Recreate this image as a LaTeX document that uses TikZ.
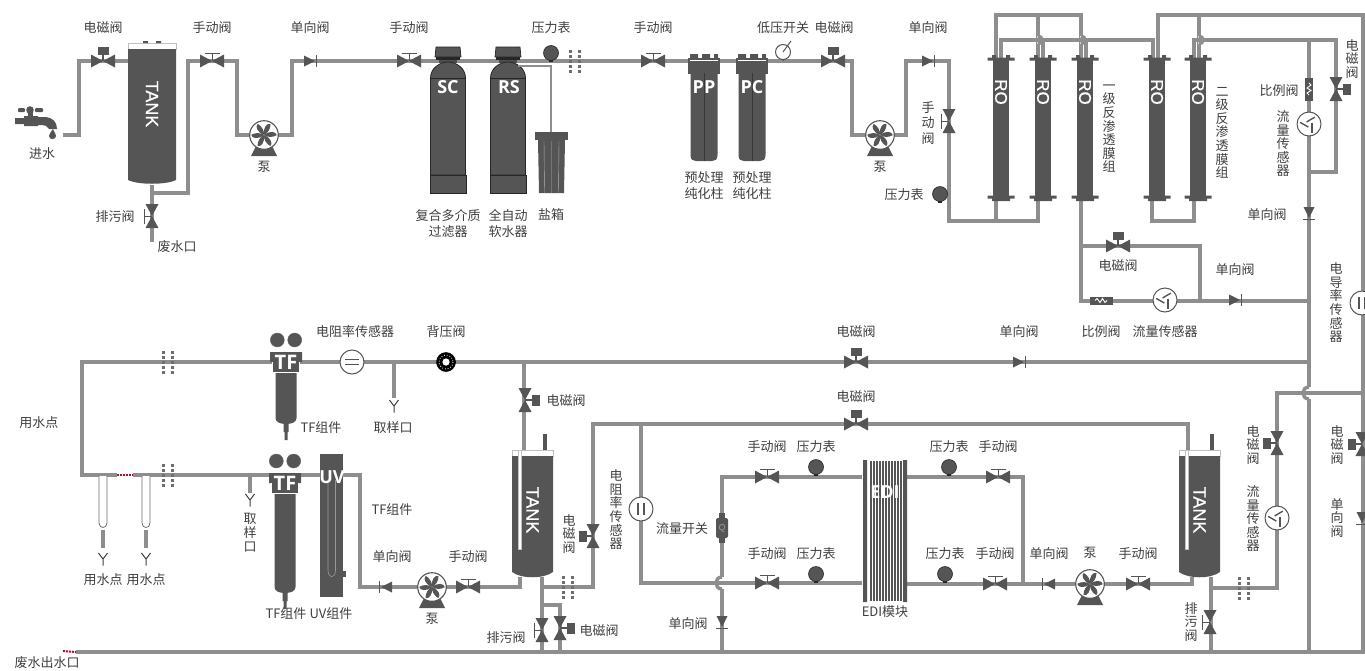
\documentclass[tikz,border=0pt]{standalone}
\usepackage{fontspec}
\setmainfont{Noto Sans CJK SC}
\newfontfamily\headfont{Open Sans}
\newfontfamily\arialfont[FakeBold=0.5]{Liberation Sans}
\usepackage{tikz}
\usetikzlibrary{positioning,calc}
\definecolor{pipegray}{HTML}{8E8E8E}
\definecolor{darkfill}{HTML}{555555}
\definecolor{labgray}{HTML}{3F3F3F}
\definecolor{dotgray}{HTML}{6E6E6E}
\definecolor{redmark}{HTML}{B0122B}
\tikzset{
    pipe/.style={draw=pipegray,line width=3.4pt},
    thinpipe/.style={draw=pipegray,line width=2pt},
    redgap/.style={draw=redmark,line width=2pt,dash pattern=on 2pt off 1pt},
    lab/.style={text=labgray,inner sep=0pt,align=center,yshift=-.7pt,
        font=\fontsize{13}{16}\selectfont},
    vlab/.style={lab,font=\fontsize{13}{13.6}\selectfont},
    vlabwide/.style={lab,font=\fontsize{13}{15.5}\selectfont},
    head/.style={text=white,inner sep=0pt,font=\headfont\bfseries\fontsize{18}{18}\selectfont},
    tanklab/.style={text=white,inner sep=0pt,rotate=-90,font=\arialfont\fontsize{#1}{#1}\selectfont},
    % devices on the pipes
    pics/valve/.style={code={
        \fill[darkfill] (-12,-6.5) -- (12,6.5) -- (12,-6.5) -- (-12,6.5) -- cycle;
    }},
    pics/manualv/.style={code={
        \pic[transform shape] {valve};
        \draw[darkfill,line width=1pt] (0,0) -- (0,-8) (-7.5,-8) -- (7.5,-8);
    }},
    pics/solv/.style={code={
        \pic[transform shape] {valve};
        \draw[darkfill,line width=1.2pt] (0,0) -- (0,-7);
        \fill[darkfill] (-5.5,-14.5) rectangle (5.5,-6.5);
    }},
    pics/checkv/.style={code={
        \fill[darkfill] (-6,-5.5) -- (-6,5.5) -- (5,0) -- cycle;
        \draw[darkfill,line width=1pt] (6.5,-6) -- (6.5,6);
    }},
    pics/pumpv/.style={code={
        \fill[darkfill] (-13,21) -- (13,21) -- (8,11) -- (-8,11) -- cycle;
        \draw[darkfill,fill=white,line width=1.1pt] (0,0) circle[radius=14.3];
        \foreach \a in {0,60,...,300}
          \fill[darkfill,rotate=\a] (0,0) .. controls (-1,-8) and (3,-12) .. (6.5,-11) .. controls (6.5,-6) and (4,-2) .. (0,0) -- cycle;
    }},
    pics/flowsens/.style={code={
        \draw[darkfill,fill=white,line width=1pt] (0,0) circle[radius=12];
        \foreach \a in {0,120,240}
          \draw[darkfill,line width=1.4pt,rotate=\a] (3,-1) -- (3,8.5);
    }},
    pics/barsens/.style={code={
        \draw[darkfill,fill=white,line width=1pt] (0,0) circle[radius=12];
        \draw[darkfill,line width=1.8pt] (-2.7,-6) -- (-2.7,6) (2.7,-6) -- (2.7,6);
    }},
    pics/gaugev/.style={code={
        \draw[black!85,fill=darkfill,line width=.6pt] (0,0) circle[radius=7.5];
        \fill[black!85] (-2,6.8) rectangle (2,8.6);
    }},
    pics/propv/.style={code={
        \fill[darkfill] (-4,-11.5) rectangle (4,11.5);
        \draw[white,line width=.9pt] (0,-6) -- (2,-4) -- (-2,-1) -- (2,1.5) -- (-2,4) -- (0,6);
    }},
    pics/breakdots/.style={code={
        \foreach \c in {-4.5,4.5}
          \foreach \r in {-10,-5,0,5,10}
            \fill[dotgray] (\c-1.5,\r-1.5) rectangle (\c+1.5,\r+1.5);
    }},
    pics/sampley/.style={code={
        \draw[labgray,line width=1pt] (-4.5,-6) -- (0,0) -- (4.5,-6) (0,0) -- (0,6.5);
    }},
    pics/hopv/.style={code={
        \fill[white] (-2.2,-6) rectangle (2.2,6);
        \draw[pipe] (-5,0) -- (2.2,0);
        \draw[pipe] (0,-6) .. controls (-8,-6) and (-8,6) .. (0,6);
    }},
    pics/utube/.style={code={
        \draw[dotgray,fill=white,line width=.8pt] (-4,0) -- (-4,47) .. controls (-4,53) and (4,53) .. (4,47) -- (4,0);
    }},
    % vessels
    pics/bigtank/.style={code={
        \draw[black!25,fill=white,line width=.7pt] (-24,-61) -- (24,-61) -- (24,-55) -- (-24,-55) -- cycle;
        \fill[darkfill] (-9,-63) rectangle (-4,-61) (9,-63) rectangle (4,-61);
        \fill[darkfill] (-24,-55) -- (24,-55) -- (24,76) .. controls (14,81) and (-14,81) .. (-24,76) -- cycle;
        \node[tanklab=18] (-name) at (0,0) {TANK};
    }},
    pics/smalltank/.style={code={
        \fill[darkfill] (31,-16) rectangle (35,0);
        \draw[black!25,fill=white,line width=.7pt] (0,0) rectangle (41,6);
        \fill[darkfill] (0,6) -- (41,6) -- (41,122) .. controls (32,129) and (9,129) .. (0,122) -- cycle;
        \draw[black!25,fill=white,line width=.5pt] (6.5,0) rectangle (9.5,99);
        \node[tanklab=18] (-name) at (20.5,60) {TANK};
    }},
    pics/softener/.style={code={
        \fill[darkfill,draw=black!85,line width=.7pt] (-12,-14) -- (12,-14) -- (13,-4) -- (-13,-4) -- cycle;
        \fill[black!85] (-12,-4) rectangle (12,-1);
        \fill[black!70] (-9,-1) rectangle (9,2);
        \draw[black!85,fill=darkfill,line width=.8pt] (-17.5,114) -- (-17.5,17) .. controls (-17.5,7) and (-8,1) .. (0,1) .. controls (8,1) and (17.5,7) .. (17.5,17) -- (17.5,114) -- cycle;
        \draw[black!85,line width=.8pt] (-17.5,17) -- (17.5,17);
        \draw[black!85,fill=darkfill,line width=.8pt] (-18,114) rectangle (18,132);
    }},
    pics/cartridge/.style={code={
        \fill[darkfill] (-13.5,12) -- (13.5,12) -- (13.5,94) .. controls (13.5,99) and (11,100) .. (8,100) -- (-8,100) .. controls (-11,100) and (-13.5,99) .. (-13.5,94) -- cycle;
        \fill[darkfill] (-16,-3) rectangle (16,13);
        \fill[darkfill] (-14,-7) rectangle (-6,-3) (-2,-7) rectangle (6,-3) (10,-7) rectangle (14,-3);
        \draw[black!35!darkfill,line width=.6pt] (0,12) -- (0,100);
        \draw[white,line width=.3pt] (-14,-1) -- (14,-1);
    }},
    pics/memb/.style={code={
        \fill[darkfill] (-8,0) rectangle (8,138);
        \fill[darkfill] (-13.5,-1.5) rectangle (13.5,1.5) (-13.5,136.5) rectangle (13.5,139.5);
        \fill[darkfill] (-9,-4) rectangle (-5,-1) (5,-4) rectangle (9,-1) (-9,139) rectangle (9,142);
        \node[tanklab=17] (-name) at (0,33) {RO};
    }},
    pics/tfunit/.style={code={
        \draw[black!60,fill=darkfill,line width=.4pt] (-8.7,-12) circle[radius=7] (8.7,-12) circle[radius=7];
        \fill[darkfill] (-10.5,#1) -- (-10.5,6) -- (10.5,6) -- (10.5,#1) .. controls (10.5,#1+4) and (6,#1+6) .. (0,#1+6) .. controls (-6,#1+6) and (-10.5,#1+4) .. (-10.5,#1) -- cycle;
        \fill[darkfill] (-16,0) rectangle (16,10) (-13.5,10) rectangle (13.5,20);
        \draw[white,line width=.4pt] (-13.5,10) -- (-13.5,20) -- (13.5,20) -- (13.5,10);
        \fill[darkfill] (-2.5,#1+6) rectangle (2.5,#1+14) (-1.5,#1+14) rectangle (1.5,#1+22);
        \node[head,font=\headfont\bfseries\fontsize{20}{20}\selectfont] (-name) at (0,10) {TF};
    }}
}
\begin{document}
\begin{tikzpicture}[x=1pt,y=-1pt]
  \useasboundingbox (0,0) rectangle (1365,670);
  \clip (0,0) rectangle (1365,670);
  % points of the pipe runs
  \foreach \n/\x/\y in {
    feedA/63/135,feedB/79/135,feedC/79/61,feedD/128/61,
    drainA/152/185,drainB/152/193,drainC/152/242,
    liftA/188/193,liftB/188/61,liftC/237/61,liftD/237/135,liftE/250/135,
    mainA/278/135,mainB/292/135,mainC/292/61,mainD/852/61,mainE/852/135,mainF/866/135,
    hpA/894/135,hpB/906/135,hpC/906/61,hpD/949/61,hpE/949/221,hpF/1038/221,hpG/1038/197,
    hpH/996/221,hpI/996/197,
    loopA/996/60,loopB/996/15,loopC/1081/15,loopD/1081/60,loopE/1038/15,loopF/1038/60,
    permA/1001/60,permB/1001/40,permC/1153/40,permD/1153/60,permE/1043/40,permF/1043/60,permG/1086/40,permH/1086/60,
    rejA/1081/197,rejB/1081/301,rejC/1309/301,rejD/1081/246,rejE/1200/246,rejF/1200/301,
    linkA/1152/197,linkB/1152/221,linkC/1194/221,linkD/1194/197,
    topA/1158/60,topB/1158/15,topC/1363/15,topD/1363/652,topE/1199/15,topF/1199/60,
    secA/1194/60,secB/1194/40,secC/1336/40,secD/1336/172,secE/1309/172,secF/1309/40,secG/1309/652,
    useA/1309/362,useB/82/362,useC/82/475,useD/117/475,
    retA/133/475,retB/360/475,retC/360/587,retD/418/587,
    retE/446/587,retF/520/587,retG/520/577,
    sampA/394/362,sampB/394/398,sampC/250/475,sampD/250/493,
    inTankA/524/362,inTankB/524/450,
    outA/542/577,outB/542/652,outC/542/605,outD/560/605,outE/560/652,
    ediA/542/587,ediB/593/587,ediC/593/424,ediD/1188/424,ediE/1188/450,
    ediF/641/424,ediG/641/583,ediH/862/583,ediI/722/477,ediJ/722/652,ediK/862/477,
    conA/907/477,conB/1023/477,conC/1023/584,conD/907/584,conE/1076/584,
    conF/1104/584,conG/1192/584,conH/1192/577,
    endA/1211/577,endB/1211/652,endC/1211/588,endD/1277/588,endE/1277/393,endF/1365/393,
    wasteA/76/652,wasteB/1365/652,wasteC/63/651,
    stemA/103/530,stemB/103/548,stemC/146/530,stemD/146/548}
    \coordinate (\n) at (\x,\y);

  \draw[pipe] (feedA) -- (feedB) -- (feedC) -- (feedD);
  \draw[pipe] (drainA) -- (drainC);
  \draw[pipe] (drainB) -- (liftA) -- (liftB) -- (liftC) -- (liftD) -- (liftE);
  \draw[pipe] (mainA) -- (mainB) -- (mainC) -- (mainD) -- (mainE) -- (mainF);
  \draw[pipe] (hpA) -- (hpB) -- (hpC) -- (hpD) -- (hpE) -- (hpF) -- (hpG);
  \draw[pipe] (hpH) -- (hpI);
  \draw[pipe] (loopA) -- (loopB) -- (loopC) -- (loopD);
  \draw[pipe] (loopE) -- (loopF);
  \draw[pipe] (permA) -- (permB) -- (permC) -- (permD);
  \draw[pipe] (permE) -- (permF);
  \draw[pipe] (permG) -- (permH);
  \draw[pipe] (rejA) -- (rejB) -- (rejC);
  \draw[pipe] (rejD) -- (rejE) -- (rejF);
  \draw[pipe] (linkA) -- (linkB) -- (linkC) -- (linkD);
  \draw[pipe] (topA) -- (topB) -- (topC) -- (topD);
  \draw[pipe] (topE) -- (topF);
  \draw[pipe] (secA) -- (secB) -- (secC) -- (secD) -- (secE);
  \draw[pipe] (secF) -- (secG);
  \draw[pipe] (useA) -- (useB) -- (useC) -- (useD);
  \draw[pipe] (retA) -- (retB) -- (retC) -- (retD);
  \draw[pipe] (retE) -- (retF) -- (retG);
  \draw[pipe] (sampA) -- (sampB);
  \draw[pipe] (sampC) -- (sampD);
  \draw[pipe] (inTankA) -- (inTankB);
  \draw[pipe] (outA) -- (outB);
  \draw[pipe] (outC) -- (outD) -- (outE);
  \draw[pipe] (ediA) -- (ediB) -- (ediC) -- (ediD) -- (ediE);
  \draw[pipe] (ediF) -- (ediG) -- (ediH);
  \draw[pipe] (ediK) -- (ediI) -- (ediJ);
  \draw[pipe] (conA) -- (conB) -- (conC);
  \draw[pipe] (conD) -- (conE);
  \draw[pipe] (conF) -- (conG) -- (conH);
  \draw[pipe] (endA) -- (endB);
  \draw[pipe] (endC) -- (endD) -- (endE) -- (endF);
  \draw[pipe] (wasteA) -- (wasteB);
  \draw[pipe] (stemA) -- (stemB);
  \draw[pipe] (stemC) -- (stemD);
  \draw[redgap] (useD) -- (retA);
  \draw[redgap] (wasteC) -- (wasteA);

  % crossings
  \foreach \x/\y/\r/\s in {722/583/0/1,1309/393/0/1,1038/40/180/.65,1081/40/180/.65,1199/40/180/.65}
    \pic[rotate=\r,scale=\s] at (\x,\y) {hopv};

  % valves
  \foreach \x/\y/\r in {212/61/0,409/61/0,653/61/0,152/216/90,949/121/90,468/587/0,767/477/0,767/583/0,
      998/477/0,995/584/0,1138/584/0,542/630/90,1210/622/90}
    \pic[rotate=\r] at (\x,\y) {manualv};
  \foreach \x/\y/\r in {103/61/0,833/61/0,1118/246/0,856/362/0,856/424/0,1336/89/-90,525/400/-90,593/536/90,
      560/628/-90,1277/443/90,1362/444/90}
    \pic[rotate=\r] at (\x,\y) {solv};
  \foreach \x/\y/\r in {310/61/0,928/61/0,1235/300/0,1019/362/0,1309/213/-90,386/587/180,722/622/-90,1049/584/180,1362/518/-90}
    \pic[rotate=\r] at (\x,\y) {checkv};
  \foreach \x/\y in {264/135,880/135,432/587,1090/584}
    \pic at (\x,\y) {pumpv};
  \foreach \x/\y in {1309/124,1165/300,1277/518}
    \pic at (\x,\y) {flowsens};
  \foreach \x/\y in {1362/303,641/509}
    \pic at (\x,\y) {barsens};
  \foreach \x/\y in {551/53,940/194,816/467,816/574,949/467,945/574}
    \pic at (\x,\y) {gaugev};
  \foreach \x/\y in {575/61,168/362,168/475,568/587,1244/588}
    \pic at (\x,\y) {breakdots};
  \foreach \x/\y in {394/406,250/500,103/559,146/559}
    \pic at (\x,\y) {sampley};
  \foreach \x in {103,146}
    \pic at (\x,476) {utube};
  \pic at (1309,89) {propv};
  \pic[rotate=90] at (1101,300.5) {propv};

  % low pressure switch
  \draw[darkfill,fill=white,line width=1pt] (783,52) circle[radius=7.5];
  \draw[darkfill,line width=1pt] (783,52) -- (791,41) (783,59.5) -- (783,61);
  % back pressure valve and resistivity sensor
  \draw[black,fill=black,line width=.6pt] (446,362) circle[radius=9.5];
  \draw[white,dotted,line width=.8pt] (446,362) circle[radius=7];
  \fill[white] (446,362) circle[radius=3.6];
  \draw[darkfill,fill=white,line width=1pt] (352,362) circle[radius=12];
  \draw[darkfill,line width=1.8pt] (345,359.5) -- (359,359.5) (345,364.5) -- (359,364.5);
  % flow switch
  \fill[darkfill] (719,513) rectangle (725,543);
  \fill[darkfill,rounded corners=2pt] (716,518) rectangle (728,538);
  \node[text=black!45,inner sep=0pt,font=\arialfont\fontsize{9}{9}\selectfont] (flowq) at (722,528) {Q};

  % tap
  \fill[darkfill] (30,110) circle[radius=3.8];
  \fill[darkfill,rounded corners=1pt] (18,108) rectangle (25,112) (35,108) rectangle (43,112);
  \fill[darkfill] (28,112) rectangle (33,118);
  \fill[darkfill] (15,118) rectangle (24,124) (24,116) rectangle (38,126);
  \fill[darkfill] (38,117) -- (46,117) .. controls (53,118) and (57,122) .. (57,129) -- (49,129) .. controls (48,126) and (46,125) .. (38,125) -- cycle;
  \fill[darkfill] (53,129) .. controls (50,133) and (49,135) .. (49,136) .. controls (49,140) and (56,140) .. (56,136) .. controls (56,135) and (55,133) .. (53,129) -- cycle;

  % vessels
  \pic (tankA) at (152,104) {bigtank};
  \pic (tankB) at (512,450) {smalltank};
  \pic (tankC) at (1179,450) {smalltank};
  \pic at (448,61) {softener};
  \pic at (508,61) {softener};
  \node[head] (sc) at (448,87) {SC};
  \node[head] (rs) at (509,87) {RS};
  \pic at (704,61) {cartridge};
  \pic at (752,61) {cartridge};
  \node[head] (pp) at (704,87) {PP};
  \node[head] (pc) at (752,87) {PC};
  % salt box
  \draw[thinpipe] (518,66) -- (551,66) -- (551,133);
  \fill[darkfill] (535,132) rectangle (568,140);
  \fill[darkfill] (538,140) -- (565,140) -- (564,193) -- (539,193) -- cycle;
  \draw[black!30,line width=.4pt] (544,141) -- (544.5,193) (551.5,141) -- (551.5,193) (559,141) -- (558.5,193);
  % membranes
  \foreach \x/\n in {1001/roA,1043/roB,1085/roC,1157/roD,1198/roE}
    \pic (\n) at (\x,59) {memb};
  % point of use filters and UV
  \pic at (286,352) {tfunit=66};
  \pic at (285,473) {tfunit=114};
  \fill[darkfill] (320,454) rectangle (343,597);
  \fill[darkfill] (343,571) rectangle (346,577);
  \draw[black!40,line width=.6pt] (328,480) -- (328,570) .. controls (328,579) and (335.5,579) .. (335.5,570) -- (335.5,480);
  \node[head] (uvname) at (332,477) {UV};
  % EDI stack
  \fill[darkfill] (863,460) rectangle (867,602) (903,460) rectangle (907,602);
  \foreach \x in {869.5,872.5,...,902}
    \fill[darkfill] (\x,461) rectangle (\x+2,601);
  \node[head,font=\headfont\bfseries\fontsize{18}{18}\selectfont] (ediname) at (885,492) {EDI};

  % labels, horizontal
  \foreach \t/\x/\y [count=\i] in {
    电磁阀/103/27,手动阀/212/27,单向阀/310/27,手动阀/409/27,压力表/551/27,手动阀/653/27,
    低压开关/783/27,电磁阀/834/27,单向阀/928/27,进水/42/153,泵/264/166,排污阀/115/216,废水口/177/246,
    {复合多介质\\过滤器}/448/223,{全自动\\软水器}/508/223,盐箱/551/214,
    {预处理\\纯化柱}/704/185,{预处理\\纯化柱}/752/185,泵/880/166,压力表/904/194,
    比例阀/1279/90,单向阀/1267/214,电磁阀/1118/265,单向阀/1235/269,单向阀/1019/331,比例阀/1101/331,流量传感器/1165/331,
    电磁阀/856/331,电阻率传感器/355/331,背压阀/446/331,用水点/39/422,TF组件/321/427,取样口/393/427,
    用水点/103/579,用水点/146/579,TF组件/286/613,UV组件/331/613,TF组件/392/509,单向阀/392/556,手动阀/468/556,泵/432/618,
    废水出水口/47/662,电磁阀/566/400,流量开关/682/528,手动阀/767/446,压力表/816/446,手动阀/767/553,压力表/816/553,
    压力表/949/446,手动阀/998/446,压力表/945/553,手动阀/995/553,单向阀/1049/553,泵/1090/552,手动阀/1138/553,
    EDI模块/885/611,单向阀/688/623,排污阀/506/637,电磁阀/599/630,电磁阀/856/396}
    \node[lab] (lab\i) at (\x,\y) {\t};
  % labels, vertical
  \foreach \t/\x/\y [count=\i] in {
    {一\\级\\反\\渗\\透\\膜\\组}/1109/128,{二\\级\\反\\渗\\透\\膜\\组}/1222/132,
    {电\\磁\\阀}/1352/58,{流\\量\\传\\感\\器}/1283/143,{电\\导\\率\\传\\感\\器}/1336/302,
    {取\\样\\口}/250/532,{电\\磁\\阀}/569/533,{电\\阻\\率\\传\\感\\器}/616/509,
    {排\\污\\阀}/1191/621,{电\\磁\\阀}/1253/444,{流\\量\\传\\感\\器}/1253/518,{电\\磁\\阀}/1337/444,{单\\向\\阀}/1337/517}
    \node[vlab] (vlab\i) at (\x,\y) {\t};
  \node[vlabwide] (vlabhand) at (928,122) {手\\动\\阀};
\end{tikzpicture}
\end{document}
